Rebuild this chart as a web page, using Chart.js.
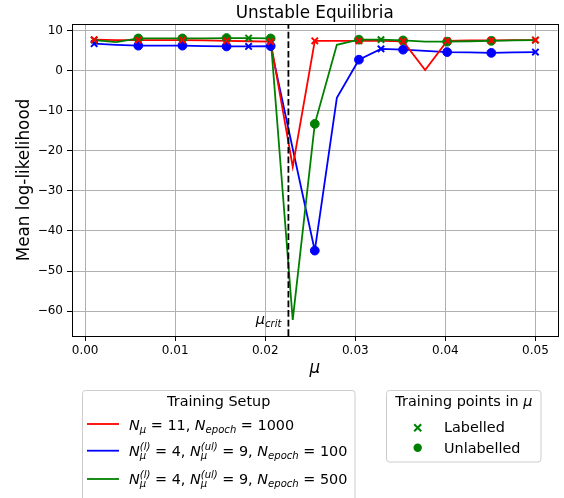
<!DOCTYPE html>
<html>
<head>
<meta charset="utf-8">
<script src="https://cdn.jsdelivr.net/npm/chart.js@4"></script>
<style>
    html, body { margin: 0; padding: 0; background: #fff; }
</style>
</head>
<body>
<canvas id="graph" width="564" height="498"></canvas>
<script>
// Test grid in mu (the lines are drawn through these points)
const muGrid = [0.001, 0.00345, 0.0059, 0.00835, 0.0108, 0.01325, 0.0157, 0.01815, 0.0206, 0.02305,
    0.0255, 0.02795, 0.0304, 0.03285, 0.0353, 0.03775, 0.0402, 0.04265, 0.0451, 0.04755, 0.05];

// Mean log-likelihood of each training setup on the grid above
const redValues = [7.7, 7.6, 7.6, 7.6, 7.6, 7.5, 7.4, 7.3, 7.2, -24.0,
    7.4, 7.4, 7.4, 7.4, 7.3, 0.1, 7.4, 7.5, 7.5, 7.6, 7.6];
const blueValues = [6.7, 6.4, 6.2, 6.2, 6.2, 6.1, 6.0, 6.0, 6.1, -19.5,
    -44.9, -6.8, 2.7, 5.4, 5.2, 4.9, 4.6, 4.5, 4.4, 4.5, 4.6];
const greenValues = [7.6, 7.1, 8.0, 8.0, 8.0, 8.0, 8.1, 8.1, 8.0, -62.2,
    -13.3, 6.4, 7.7, 7.7, 7.5, 7.2, 7.2, 7.3, 7.4, 7.5, 7.6];

// Which grid points were training points
const redLabelledIdx = [0, 2, 4, 6, 8, 10, 12, 14, 16, 18, 20];
const semiLabelledIdx = [0, 7, 13, 20];
const semiUnlabelledIdx = [2, 4, 6, 8, 10, 12, 14, 16, 18];

const muCrit = 0.02257;

// Axes
const xMin = -0.00146, xMax = 0.05245;
const yMin = -66.2, yMax = 11.6;
const xTicks = [0, 0.01, 0.02, 0.03, 0.04, 0.05];
const yTicks = [-60, -50, -40, -30, -20, -10, 0, 10];

// Texts
const chartTitle = 'Unstable Equilibria';
const yTitle = 'Mean log-likelihood';
const setupTitle = 'Training Setup';
const setupLabels = [
    [['N', 'i'], ['μ', 'sub'], [' = 11, ', 'n'], ['N', 'i'], ['epoch', 'sub'], [' = 1000', 'n']],
    [['N', 'i'], ['μ', 'subsup', '(l)'], [' = 4, ', 'n'], ['N', 'i'], ['μ', 'subsup', '(ul)'], [' = 9, ', 'n'], ['N', 'i'], ['epoch', 'sub'], [' = 100', 'n']],
    [['N', 'i'], ['μ', 'subsup', '(l)'], [' = 4, ', 'n'], ['N', 'i'], ['μ', 'subsup', '(ul)'], [' = 9, ', 'n'], ['N', 'i'], ['epoch', 'sub'], [' = 500', 'n']]
];
const pointsTitle = [['Training points in ', 'n'], ['μ', 'i']];
const pointsLabels = ['Labelled', 'Unlabelled'];

const RED = '#ff0000', BLUE = '#0000ff', GREEN = '#008000';
const FONT = '"DejaVu Sans", sans-serif';

function pick(values, idx) {
    return idx.map(i => ({ x: muGrid[i], y: values[i] }));
}

function lineSet(values, color, order) {
    return {
        data: muGrid.map((m, i) => ({ x: m, y: values[i] })),
        borderColor: color,
        borderWidth: 1.8,
        pointRadius: 0,
        tension: 0,
        order: order
    };
}

function markerSet(values, idx, color, style, order) {
    return {
        data: pick(values, idx),
        showLine: false,
        borderColor: color,
        backgroundColor: color,
        pointStyle: style,
        pointRadius: style === 'circle' ? 4.4 : 4.5,
        borderWidth: style === 'circle' ? 1 : 2,
        clip: false,
        order: order
    };
}

// Draws a small piece of math text (italic letters, sub/superscripts)
function drawMath(ctx, x, y, tokens, size) {
    let cx = x;
    const small = size * 0.7;
    tokens.forEach(tok => {
        const [t, kind, extra] = tok;
        if (kind === 'n' || kind === 'i') {
            ctx.font = (kind === 'i' ? 'italic ' : '') + size + 'px ' + FONT;
            ctx.fillText(t, cx, y);
            cx += ctx.measureText(t).width;
        } else if (kind === 'sub') {
            ctx.font = 'italic ' + small + 'px ' + FONT;
            ctx.fillText(t, cx, y + size * 0.22);
            cx += ctx.measureText(t).width;
        } else if (kind === 'subsup') {
            ctx.font = 'italic ' + small + 'px ' + FONT;
            ctx.fillText(t, cx, y + size * 0.22);
            const w1 = ctx.measureText(t).width;
            ctx.fillText(extra, cx, y - size * 0.42);
            const w2 = ctx.measureText(extra).width;
            cx += Math.max(w1, w2);
        }
    });
    return cx;
}

function mathWidth(ctx, tokens, size) {
    ctx.save();
    ctx.globalAlpha = 0;
    const w = drawMath(ctx, 0, -100, tokens, size);
    ctx.restore();
    return w;
}

function roundBox(ctx, x, y, w, h, r) {
    ctx.beginPath();
    ctx.moveTo(x + r, y);
    ctx.lineTo(x + w - r, y);
    ctx.quadraticCurveTo(x + w, y, x + w, y + r);
    ctx.lineTo(x + w, y + h - r);
    ctx.quadraticCurveTo(x + w, y + h, x + w - r, y + h);
    ctx.lineTo(x + r, y + h);
    ctx.quadraticCurveTo(x, y + h, x, y + h - r);
    ctx.lineTo(x, y + r);
    ctx.quadraticCurveTo(x, y, x + r, y);
    ctx.closePath();
    ctx.fillStyle = 'rgba(255,255,255,0.8)';
    ctx.fill();
    ctx.strokeStyle = '#cccccc';
    ctx.lineWidth = 1;
    ctx.stroke();
}

const decorations = {
    id: 'decorations',
    afterDatasetsDraw(chart) {
        const ctx = chart.ctx;
        const area = chart.chartArea;
        ctx.save();
        // frame
        ctx.strokeStyle = '#000';
        ctx.lineWidth = 1;
        ctx.strokeRect(Math.round(area.left) + 0.5, Math.round(area.top) + 0.5,
            Math.round(area.right - area.left), Math.round(area.bottom - area.top));

        // mu_crit label
        const xs = chart.scales.x;
        const cx = xs.getPixelForValue(muCrit);
        ctx.fillStyle = '#000';
        ctx.textBaseline = 'alphabetic';
        ctx.textAlign = 'left';
        const crit = [['μ', 'i'], ['crit', 'sub']];
        const cw = mathWidth(ctx, crit, 14.4);
        drawMath(ctx, cx - 7 - cw, 324, crit, 14.4);
        ctx.restore();
    },
    afterDraw(chart) {
        const ctx = chart.ctx;
        const area = chart.chartArea;
        ctx.save();
        ctx.fillStyle = '#000';
        ctx.textBaseline = 'alphabetic';

        // title
        ctx.textAlign = 'center';
        ctx.font = '16.8px ' + FONT;
        ctx.fillText(chartTitle, (area.left + area.right) / 2, 18);

        // x axis title
        ctx.font = 'italic 16.8px ' + FONT;
        ctx.fillText('μ', (area.left + area.right) / 2, 373);

        // y axis title
        ctx.save();
        ctx.translate(25, (area.top + area.bottom) / 2);
        ctx.rotate(-Math.PI / 2);
        ctx.textBaseline = 'middle';
        ctx.font = '16.8px ' + FONT;
        ctx.fillText(yTitle, 0, 0);
        ctx.restore();

        // legend: training setup
        roundBox(ctx, 82.5, 390.5, 272.5, 120, 3);
        ctx.fillStyle = '#000';
        ctx.textAlign = 'center';
        ctx.font = '14.4px ' + FONT;
        ctx.fillText(setupTitle, 218.7, 405.5);
        ctx.textAlign = 'left';
        const rows = [[424, 429.5, RED], [450.7, 456, BLUE], [479, 484, GREEN]];
        rows.forEach((r, i) => {
            ctx.strokeStyle = r[2];
            ctx.lineWidth = 1.8;
            ctx.beginPath();
            ctx.moveTo(87, r[0]);
            ctx.lineTo(119, r[0]);
            ctx.stroke();
            ctx.fillStyle = '#000';
            drawMath(ctx, 129, r[1], setupLabels[i], 14.4);
        });

        // legend: training points
        roundBox(ctx, 386.5, 390.5, 154.5, 71.5, 3);
        ctx.fillStyle = '#000';
        const tw = mathWidth(ctx, pointsTitle, 14.4);
        drawMath(ctx, 463.8 - tw / 2, 405.5, pointsTitle, 14.4);
        ctx.strokeStyle = GREEN;
        ctx.lineWidth = 2;
        ctx.beginPath();
        ctx.moveTo(414.2, 424.2); ctx.lineTo(421.2, 431.2);
        ctx.moveTo(421.2, 424.2); ctx.lineTo(414.2, 431.2);
        ctx.stroke();
        ctx.fillStyle = GREEN;
        ctx.beginPath();
        ctx.arc(417.7, 447.7, 4.2, 0, Math.PI * 2);
        ctx.fill();
        ctx.fillStyle = '#000';
        ctx.font = '14.4px ' + FONT;
        ctx.fillText(pointsLabels[0], 444, 431.7);
        ctx.fillText(pointsLabels[1], 444, 452.7);
        ctx.restore();
    }
};

const ctx = document.getElementById('graph').getContext('2d');
new Chart(ctx, {
    type: 'line',
    data: {
        datasets: [
            markerSet(redValues, redLabelledIdx, RED, 'crossRot', 0),
            markerSet(blueValues, semiLabelledIdx, BLUE, 'crossRot', 1),
            markerSet(blueValues, semiUnlabelledIdx, BLUE, 'circle', 1),
            markerSet(greenValues, semiLabelledIdx, GREEN, 'crossRot', 2),
            markerSet(greenValues, semiUnlabelledIdx, GREEN, 'circle', 2),
            {
                data: [{ x: muCrit, y: yMin }, { x: muCrit, y: yMax }],
                borderColor: '#000',
                borderWidth: 1.8,
                borderDash: [6.7, 2.9],
                pointRadius: 0,
                order: 3
            },
            lineSet(greenValues, GREEN, 4),
            lineSet(redValues, RED, 5),
            lineSet(blueValues, BLUE, 6)
        ]
    },
    options: {
        responsive: false,
        animation: false,
        events: [],
        layout: { padding: { top: 24, right: 4, left: 0, bottom: 0 } },
        plugins: {
            legend: { display: false },
            title: { display: false },
            tooltip: { enabled: false }
        },
        scales: {
            x: {
                type: 'linear',
                min: xMin,
                max: xMax,
                afterBuildTicks: scale => { scale.ticks = xTicks.map(v => ({ value: v })); },
                afterFit: scale => { scale.height = 162; },
                ticks: {
                    callback: v => v.toFixed(2),
                    font: { family: FONT, size: 12 },
                    color: '#000',
                    padding: 3,
                    maxRotation: 0
                },
                grid: { color: '#b0b0b0', lineWidth: 1, tickColor: '#000', tickLength: 5 },
                border: { color: '#000' }
            },
            y: {
                min: yMin,
                max: yMax,
                afterBuildTicks: scale => { scale.ticks = yTicks.map(v => ({ value: v })); },
                afterFit: scale => { scale.width = 72; },
                ticks: {
                    callback: v => v < 0 ? '\u2212' + Math.abs(v) : String(v),
                    font: { family: FONT, size: 12 },
                    color: '#000',
                    padding: 4
                },
                grid: { color: '#b0b0b0', lineWidth: 1, tickColor: '#000', tickLength: 5 },
                border: { color: '#000' }
            }
        }
    },
    plugins: [decorations]
});
</script>
</body>
</html>
